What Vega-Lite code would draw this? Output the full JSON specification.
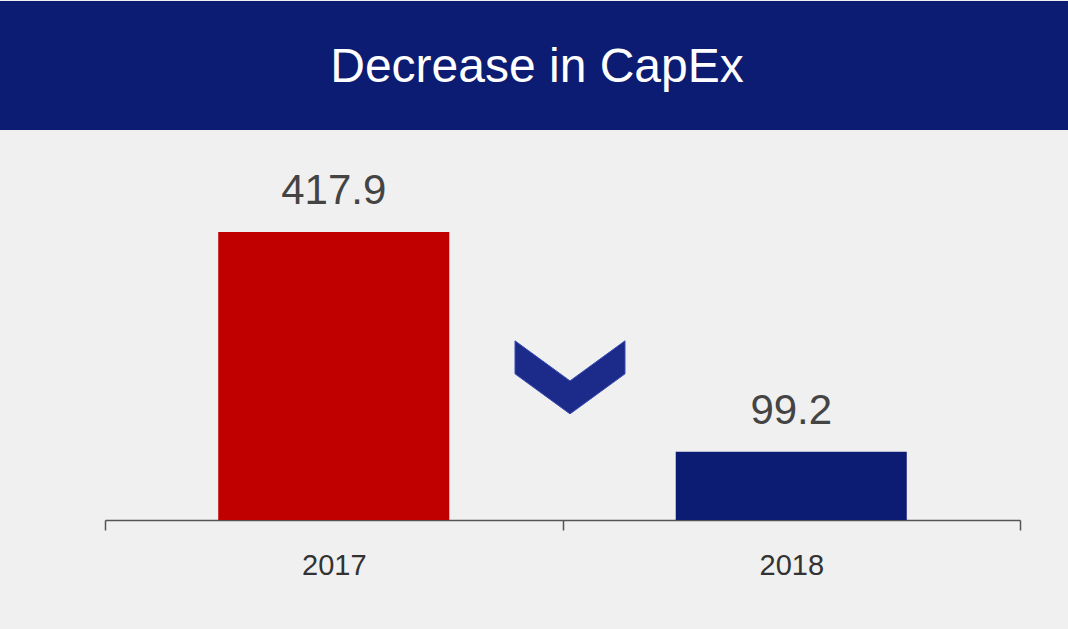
{
  "$schema": "https://vega.github.io/schema/vega-lite/v6.json",
  "background": "#f0f0f0",
  "padding": {"top": 1, "left": 0, "right": 0, "bottom": 49},
  "config": {"view": {"stroke": null}, "concat": {"spacing": 0}},
  "vconcat": [
    {
      "width": 1068,
      "height": 129,
      "view": {"fill": "#0d1c73", "stroke": null},
      "data": {"values": [{"title": "Decrease in CapEx"}]},
      "mark": {"type": "text", "fontSize": 48, "color": "#ffffff", "font": "Liberation Sans", "dx": 3, "dy": 2},
      "encoding": {"text": {"field": "title", "type": "nominal"}}
    },
    {
      "width": 1068,
      "height": 390,
      "data": {"values": [
        {"year": "2017", "capex": 417.9},
        {"year": "2018", "capex": 99.2}
      ]},
      "layer": [
        {
          "mark": {"type": "bar", "width": {"band": 0.505}},
          "encoding": {
            "x": {"field": "year", "type": "nominal", "scale": {"type": "band", "range": [105, 1020], "paddingInner": 0, "paddingOuter": 0},
              "axis": {"title": null, "domainColor": "#555555", "domainWidth": 1.5, "tickColor": "#555555", "tickWidth": 1.5, "tickSize": 10, "tickBand": "extent", "labelFontSize": 29, "labelColor": "#333333", "labelPadding": 21, "labelAngle": 0, "labelFont": "Liberation Sans"}},
            "y": {"field": "capex", "type": "quantitative", "scale": {"domain": [0, 566], "nice": false, "zero": true}, "axis": null},
            "color": {"field": "year", "type": "nominal", "scale": {"range": ["#c00000", "#0d1c73"]}, "legend": null}
          }
        },
        {
          "mark": {"type": "text", "baseline": "alphabetic", "dy": -28, "fontSize": 42, "color": "#444444", "font": "Liberation Sans"},
          "encoding": {
            "x": {"field": "year", "type": "nominal"},
            "y": {"field": "capex", "type": "quantitative"},
            "text": {"field": "capex", "type": "quantitative", "format": ".1f"}
          }
        },
        {
          "data": {"values": [{"year": "2018", "level": 207}]},
          "mark": {"type": "point", "filled": true, "shape": "M-1,-0.664L0,0.064L1,-0.664L1,-0.064L0,0.664L-1,-0.064Z", "size": 12100, "color": "#1c2a8a", "opacity": 1, "stroke": "#3b4cb3", "strokeWidth": 1},
          "encoding": {
            "x": {"field": "year", "type": "nominal", "bandPosition": 0.0164},
            "y": {"field": "level", "type": "quantitative"}
          }
        }
      ]
    }
  ]
}
